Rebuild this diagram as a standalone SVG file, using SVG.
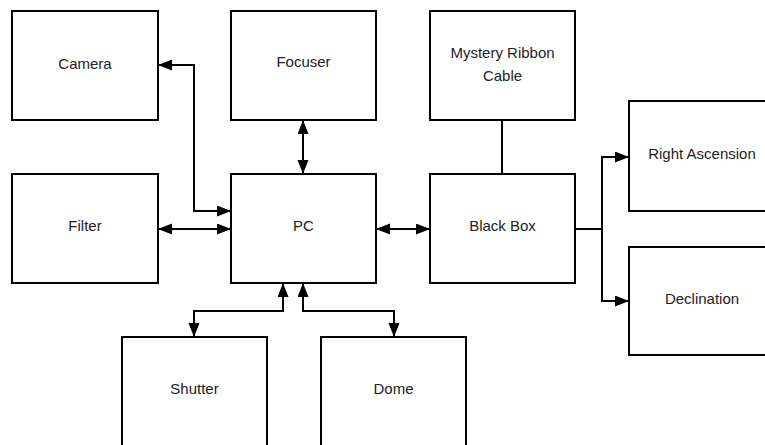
<svg xmlns="http://www.w3.org/2000/svg" width="765" height="445" viewBox="0 0 765 445">
<style>
.box{fill:#fff;stroke:#000;stroke-width:2}
.lbl{font-family:"Liberation Sans",Arial,sans-serif;font-size:15px;fill:#222;text-anchor:middle;dominant-baseline:middle}
.c{fill:none;stroke:#000;stroke-width:2}
</style>
<defs>
<marker id="ah" markerUnits="userSpaceOnUse" markerWidth="15" markerHeight="12" refX="14" refY="5.5" orient="auto-start-reverse">
<path d="M0,0 L14,5.5 L0,11 z" fill="#000"/>
</marker>
</defs>
<rect width="765" height="445" fill="#fff"/>
<g id="connectors">
<path class="c" d="M231,211 H194 V65 H158" marker-start="url(#ah)" marker-end="url(#ah)"/>
<path class="c" d="M158,229 H231" marker-start="url(#ah)" marker-end="url(#ah)"/>
<path class="c" d="M303,120 V174" marker-start="url(#ah)" marker-end="url(#ah)"/>
<path class="c" d="M376,229 H430" marker-start="url(#ah)" marker-end="url(#ah)"/>
<path class="c" d="M502,120 V174"/>
<path class="c" d="M575,229 H602 V157 H629" marker-end="url(#ah)"/>
<path class="c" d="M602,229 V301 H629" marker-end="url(#ah)"/>
<path class="c" d="M283,283 V311 H194 V337" marker-start="url(#ah)" marker-end="url(#ah)"/>
<path class="c" d="M303,283 V311 H394 V337" marker-start="url(#ah)" marker-end="url(#ah)"/>
</g>
<g id="camera"><rect class="box" x="12" y="11" width="146" height="109"/><text class="lbl" x="85" y="65">Camera</text></g>
<g id="focuser"><rect class="box" x="231" y="11" width="145" height="109"/><text class="lbl" x="303.5" y="63">Focuser</text></g>
<g id="mystery"><rect class="box" x="430" y="11" width="145" height="109"/><text class="lbl" x="502.5" y="54">Mystery Ribbon</text><text class="lbl" x="502.5" y="77">Cable</text></g>
<g id="filter"><rect class="box" x="12" y="174" width="146" height="109"/><text class="lbl" x="85" y="227">Filter</text></g>
<g id="pc"><rect class="box" x="231" y="174" width="145" height="109"/><text class="lbl" x="303.5" y="227">PC</text></g>
<g id="blackbox"><rect class="box" x="430" y="174" width="145" height="109"/><text class="lbl" x="502.5" y="227">Black Box</text></g>
<g id="ra"><rect class="box" x="629" y="101" width="145" height="110"/><text class="lbl" x="702" y="155">Right Ascension</text></g>
<g id="dec"><rect class="box" x="629" y="247" width="145" height="108"/><text class="lbl" x="702" y="300">Declination</text></g>
<g id="shutter"><rect class="box" x="122" y="337" width="145" height="120"/><text class="lbl" x="194.5" y="390">Shutter</text></g>
<g id="dome"><rect class="box" x="321" y="337" width="145" height="120"/><text class="lbl" x="393.5" y="390">Dome</text></g>
</svg>
